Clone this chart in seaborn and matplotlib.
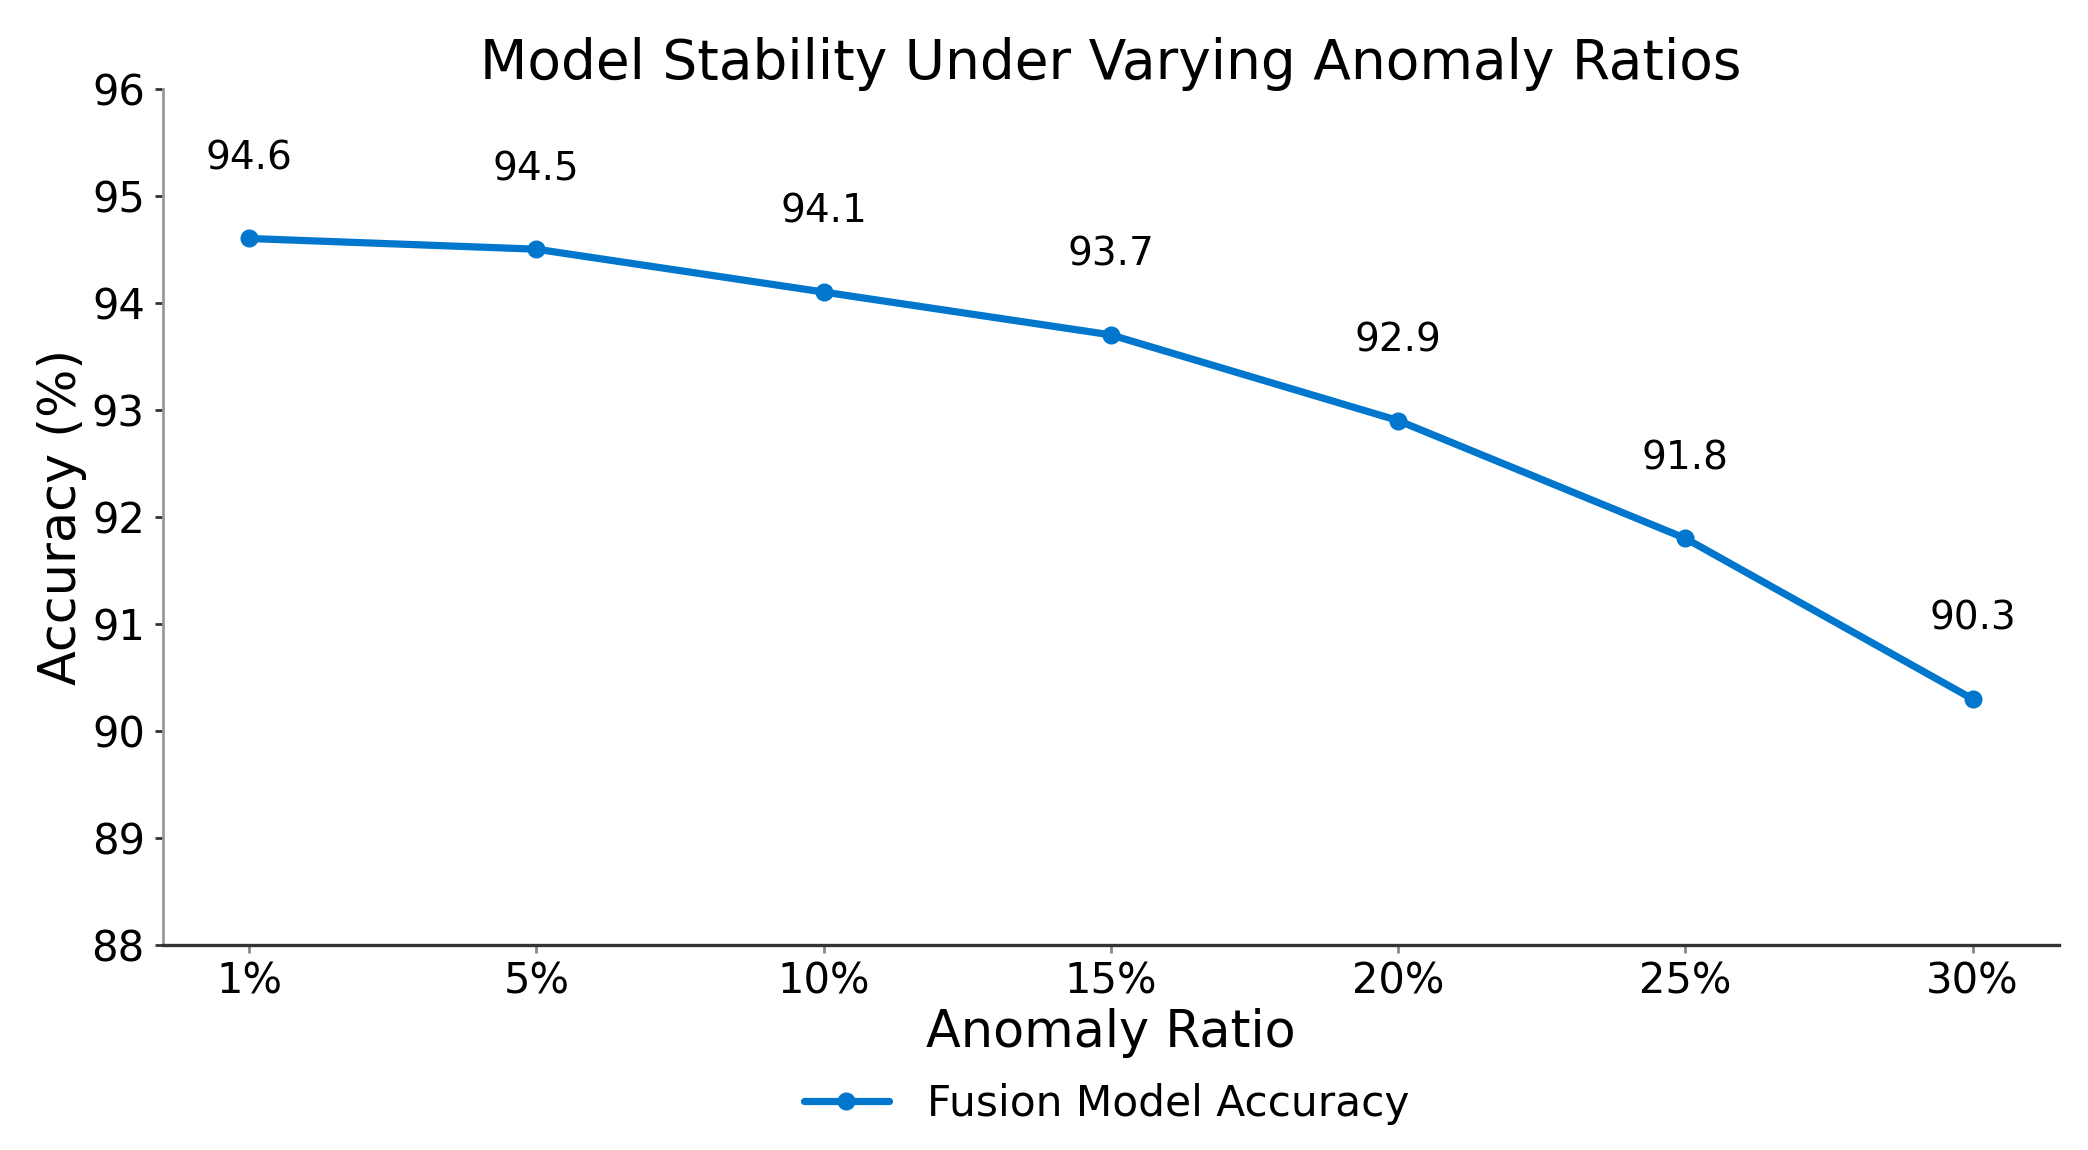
import matplotlib
matplotlib.use("Agg")
import matplotlib.pyplot as plt
import seaborn as sns
import pandas as pd

ratios = ["1%", "5%", "10%", "15%", "20%", "25%", "30%"]
accuracy = [94.6, 94.5, 94.1, 93.7, 92.9, 91.8, 90.3]
series_name = "Fusion Model Accuracy"
yticks = [88, 89, 90, 91, 92, 93, 94, 95, 96]

sns.set_theme(style="white")
plt.rcParams['font.family'] = ['DejaVu Sans']
plt.rcParams['text.color'] = 'black'
plt.rcParams['axes.labelcolor'] = 'black'

df = pd.DataFrame({"Anomaly Ratio": ratios, "Accuracy": accuracy, "Series": series_name})

fig = plt.figure(figsize=(10.44, 5.75), dpi=200)
ax = fig.add_axes([0.078, 0.178, 0.908, 0.745])
color = "#0077CC"
sns.lineplot(data=df, x="Anomaly Ratio", y="Accuracy", sort=False, marker="o",
             color=color, linewidth=2.0, markersize=5.5, markeredgewidth=0,
             label=series_name, ax=ax, legend=False)

for i, v in enumerate(accuracy):
    ax.text(i, v + 0.57, f"{v}", ha="center", va="bottom", fontsize=14, color="black")

ax.set_xlim(-0.3, 6.3)
ax.set_ylim(88, 96)
ax.set_yticks(yticks)
ax.set_title("Model Stability Under Varying Anomaly Ratios", fontsize=19.8, pad=3.5, color="black")
ax.set_xlabel("Anomaly Ratio", fontsize=18.3, labelpad=2)
ax.set_ylabel("Accuracy (%)", fontsize=18.3, labelpad=1.5)
ax.tick_params(axis="both", labelsize=15, width=1, left=True, bottom=True)
ax.tick_params(axis="x", colors="#888888", labelcolor="black", length=3, pad=2.5)
ax.tick_params(axis="y", colors="#333333", labelcolor="black", length=3, pad=3.5)
sns.despine(ax=ax)
ax.spines["left"].set_color("#999999")
ax.spines["bottom"].set_color("#333333")
ax.spines["left"].set_linewidth(1)
ax.spines["bottom"].set_linewidth(1.2)

handles, labels = ax.get_legend_handles_labels()
for h in handles:
    h.set_linewidth(2.6)
    h.set_markersize(6.5)
fig.legend(handles, labels, loc="center", bbox_to_anchor=(0.53, 0.04), frameon=False,
           fontsize=15.2, handlelength=2.0, handletextpad=0.9)

fig.savefig("out.png", dpi=200)
